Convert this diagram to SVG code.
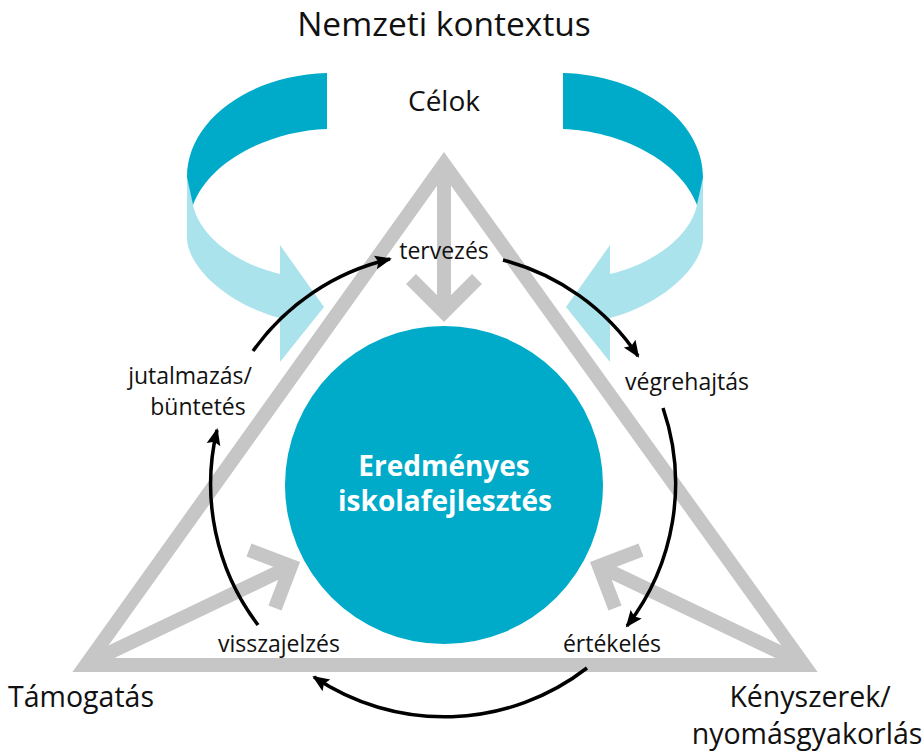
<svg xmlns="http://www.w3.org/2000/svg" width="924" height="753" viewBox="0 0 924 753">
<defs>
<style>
.t{font-family:"Open Sans","Noto Sans","Liberation Sans",sans-serif;fill:#111;text-anchor:middle}
.s{font-size:23px}
.l{font-size:28.5px}
.g{fill:none;stroke:#c6c6c6;stroke-width:14;stroke-linejoin:miter;stroke-miterlimit:10}
.c{fill:none;stroke:#000;stroke-width:3.5;marker-end:url(#ah)}
.dark{fill:#00aac9}
.light{fill:#abe3ec}
</style>
<marker id="ah" markerUnits="userSpaceOnUse" markerWidth="18" markerHeight="16" refX="15" refY="7" orient="auto" viewBox="0 0 18 14">
<path d="M0,0 L17,7 L0,14 L3,7 Z" fill="#000"/>
</marker>
<g id="curl">
<path class="light" d="M187,172 L187,240 C190,270 230,305 280,318 L280,362 L324,307 L280,245 L280,274 C240,265 200,238 193,205 Z"/>
<path class="dark" d="M327,73 L327,129 C270,131 210,160 193,205 L187,177 C187,120 250,75 327,73 Z"/>
</g>
</defs>
<rect width="924" height="753" fill="#fff"/>
<text class="t" x="444" y="36" font-size="33.5">Nemzeti kontextus</text>
<g id="curl-left"><use href="#curl"/></g>
<g id="curl-right"><use href="#curl" transform="translate(890,0) scale(-1,1)"/></g>
<g id="triangle">
<polygon class="g" points="86,665 804,665 444,164"/>
<path class="g" d="M444,164 L444,312 M411,279 L444,312 L477,279"/>
<path class="g" d="M92,661 L291,566 M249,550 L291,566 L275,608"/>
<path class="g" d="M798,661 L599,566 M641,550 L599,566 L615,608"/>
</g>
<g id="center">
<circle cx="444" cy="485" r="159" fill="#00aac9"/>
<text class="t" x="444" y="476" font-size="28" font-weight="bold" style="fill:#fff">Eredményes</text>
<text class="t" x="445" y="511" font-size="28" font-weight="bold" style="fill:#fff">iskolafejlesztés</text>
</g>
<g id="connectors">
<path class="c" d="M253,351 A233,233 0 0 1 390,259"/>
<path class="c" d="M503,260 A233,233 0 0 1 638,356"/>
<path class="c" d="M663,408 A233,233 0 0 1 627,626"/>
<path class="c" d="M587,668 A233,233 0 0 1 314,677"/>
<path class="c" d="M258,625 A233,233 0 0 1 217,430"/>
</g>
<g id="labels">
<text class="t" x="444" y="111" font-size="28">Célok</text>
<text class="t s" x="444" y="259">tervezés</text>
<text class="t s" x="687" y="390">végrehajtás</text>
<text class="t s" x="190" y="384">jutalmazás/</text>
<text class="t s" x="198" y="415">büntetés</text>
<text class="t s" x="279" y="652">visszajelzés</text>
<text class="t s" x="612" y="652">értékelés</text>
<text class="t l" x="81" y="707">Támogatás</text>
<text class="t l" x="810" y="707">Kényszerek/</text>
<text class="t l" x="807" y="744">nyomásgyakorlás</text>
</g>
</svg>
